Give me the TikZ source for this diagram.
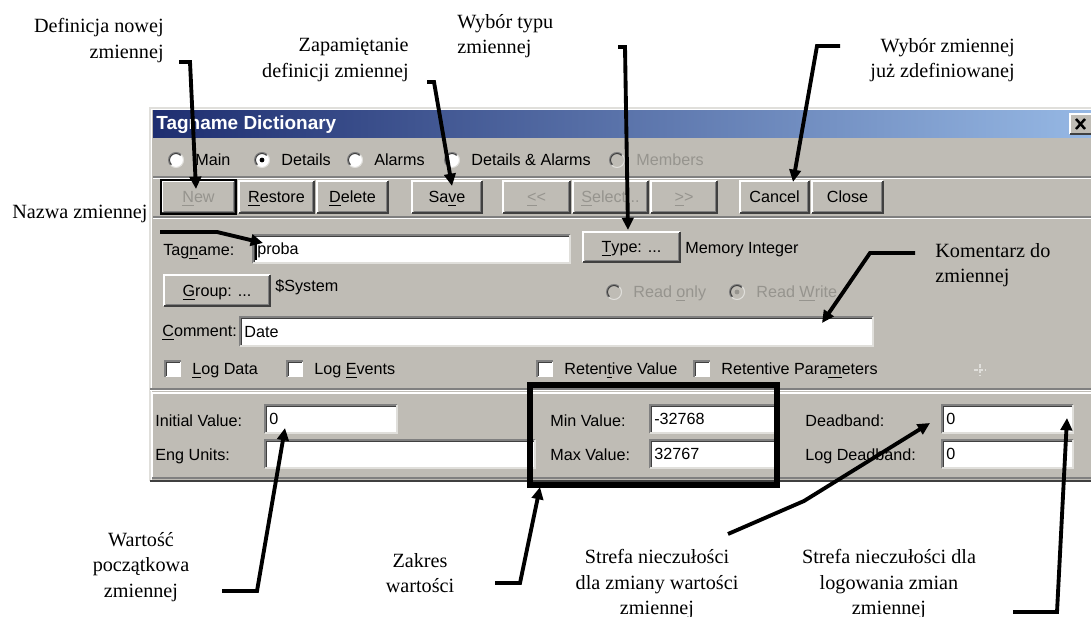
\documentclass[tikz,border=0pt]{standalone}
\usepackage{fontspec}
\setmainfont{Liberation Serif}
\setsansfont{Liberation Sans}
\usepackage{xcolor}
\usetikzlibrary{arrows.meta, calc, positioning}

\definecolor{winbg}{RGB}{191,188,181}
\definecolor{winshade}{RGB}{128,128,128}
\definecolor{windark}{RGB}{64,64,64}
\definecolor{winlite}{RGB}{224,223,219}
\definecolor{titleL}{RGB}{30,46,112}
\definecolor{titleR}{RGB}{150,184,228}
\definecolor{greyed}{RGB}{150,148,142}

\begin{document}
\begin{tikzpicture}[x=0.02cm, y=-0.02cm,
  ui/.style={font=\sffamily\fontsize{9.2}{11}\selectfont, inner sep=0pt},
  note/.style={font=\fontsize{11.5}{14.5}\selectfont, inner sep=0pt},
  callout/.style={line width=2.2pt, line cap=butt, line join=miter},
  pointer/.style={callout, -{Triangle[length=7pt, width=6.5pt]}},
  etch/.style={line width=0.6pt}]

\useasboundingbox (0,0) rectangle (1091,617);
\fill[white] (0,0) rectangle (1091,617);

% window frame and title bar
\fill[winbg] (150,108) rectangle (1091,481);
\draw[winlite, etch] (150,481) -- (150,108) -- (1091,108);
\draw[white, etch] (151.5,481) -- (151.5,109.5) -- (1091,109.5);
\draw[windark, etch] (150,481) -- (1091,481);
\shade[left color=titleL, right color=titleR] (153,111) rectangle (1091,138);
\node[inner sep=0pt, font=\sffamily\bfseries\fontsize{10.8}{12}\selectfont, text=white, anchor=base west] (title) at (156,130) {Tagname Dictionary};
\fill[winbg] (1070,114) rectangle (1091,134);
\draw[white, etch] (1070,134) -- (1070,114) -- (1091,114);
\draw[windark, etch] (1070,134) -- (1091,134);
\draw[line width=1.4pt] (1076,119) -- (1085,129) (1085,119) -- (1076,129);

% separators
\draw[winshade, etch] (153,177) -- (1091,177);
\draw[white, etch] (153,178.5) -- (1091,178.5);
\draw[winshade, etch] (153,217) -- (1091,217);
\draw[white, etch] (153,218.5) -- (1091,218.5);
\draw[winshade, etch] (150,389) -- (1091,389);
\draw[white, etch] (150,390.5) -- (1091,390.5);
\draw[white, etch] (152,478) -- (152,393) -- (1091,393);
\draw[winshade, etch] (152,478) -- (1091,478);

% radio buttons
\foreach \nm/\xr/\yr/\lbl/\col/\fc/\on in {
    main/176/160/Main/black/white/0,
    details/262/160/Details/black/white/1,
    alarms/355/160/Alarms/black/white/0,
    detal/452/160/{Details \& Alarms}/black/white/0,
    members/617/160/Members/greyed/winbg/0,
    ronly/614/292/{Read \underline{o}nly}/greyed/winbg/0,
    rwrite/737/292/{Read \underline{W}rite}/greyed/winbg/1} {
  \fill[\fc] (\xr,\yr) circle (7.5);
  \draw[winshade, etch] (\xr,\yr) ++(135:7.5) arc (135:315:7.5);
  \draw[windark, etch] (\xr,\yr) ++(135:6.5) arc (135:315:6.5);
  \draw[winlite, etch] (\xr,\yr) ++(-45:7.5) arc (-45:135:7.5);
  \ifnum\on=1 \fill[\col] (\xr,\yr) circle (2.4); \fi
  \node[ui, text=\col, anchor=base west] (r-\nm) at (\xr+19,\yr+6) {\lbl};
}

% push buttons
\foreach \nm/\xa/\ya/\xb/\yb/\lbl/\col in {
    new/162/181/235/213/{\underline{N}ew}/greyed,
    restore/239/181/314/213/{\underline{R}estore}/black,
    delete/317/181/388/213/{\underline{D}elete}/black,
    save/412/181/482/213/{Sa\underline{v}e}/black,
    prev/503/181/570/213/{\underline{\textless}\textless}/greyed,
    select/573/181/648/213/{\underline{S}elect...}/greyed,
    next/651/181/717/213/{\underline{\textgreater}\textgreater}/greyed,
    cancel/740/181/809/213/Cancel/black,
    close/812/181/883/213/Close/black,
    type/583/232/680/262/{\underline{T}ype: ...}/black,
    group/164/275/270/306/{\underline{G}roup: ...}/black} {
  \fill[winbg] (\xa,\ya) rectangle (\xb,\yb);
  \draw[white, etch] (\xa,\yb) -- (\xa,\ya) -- (\xb,\ya);
  \draw[windark, etch] (\xa,\yb) -- (\xb,\yb) -- (\xb,\ya);
  \draw[winshade, etch] (\xa+1.5,\yb-1.5) -- (\xb-1.5,\yb-1.5) -- (\xb-1.5,\ya+1.5);
  \node[ui, text=\col, anchor=base] (b-\nm) at ({(\xa+\xb)/2},{(\ya+\yb)/2+6}) {\lbl};
}
\draw[black, line width=1pt] (161,180) rectangle (236,214);

% text fields
\foreach \nm/\xa/\ya/\xb/\yb/\val in {
    tag/253/235/570/263/proba,
    comment/240/317/873/346/Date,
    init/265/405/397/433/0,
    eng/265/440/535/468/{},
    min/650/405/775/433/-32768,
    max/650/440/775/468/32767,
    dead/942/405/1073/433/0,
    logdead/942/440/1073/468/0} {
  \fill[white] (\xa,\ya) rectangle (\xb,\yb);
  \draw[winshade, etch] (\xa,\yb) -- (\xa,\ya) -- (\xb,\ya);
  \draw[windark, etch] (\xa+1.2,\yb-1.2) -- (\xa+1.2,\ya+1.2) -- (\xb-1.2,\ya+1.2);
  \draw[winlite, etch] (\xa,\yb) -- (\xb,\yb) -- (\xb,\ya);
  \node[ui, anchor=base west] (f-\nm) at (\xa+4,{(\ya+\yb)/2+6}) {\val};
}
\draw[etch] (256,239) -- (256,260);

% check boxes
\foreach \nm/\xa/\lbl in {
    logdata/165/{\underline{L}og Data},
    logev/287/{Log \underline{E}vents},
    retval/537/{Reten\underline{t}ive Value},
    retpar/694/{Retentive Para\underline{m}eters}} {
  \fill[white] (\xa,361) rectangle (\xa+16,377);
  \draw[winshade, etch] (\xa,377) -- (\xa,361) -- (\xa+16,361);
  \draw[windark, etch] (\xa+1.2,375.8) -- (\xa+1.2,362.2) -- (\xa+14.8,362.2);
  \node[ui, anchor=base west] (c-\nm) at (\xa+27,375) {\lbl};
}

% labels
\node[ui, anchor=base west] (lb-tag) at (163,256) {Tag\underline{n}ame:};
\node[ui, anchor=base west] (lb-type) at (685,254) {Memory Integer};
\node[ui, anchor=base west] (lb-group) at (275,292) {\$System};
\node[ui, anchor=base west] (lb-comment) at (162,337) {\underline{C}omment:};
\node[ui, anchor=base west] (lb-init) at (155,427) {Initial Value:};
\node[ui, anchor=base west] (lb-eng) at (155,461) {Eng Units:};
\node[ui, anchor=base west] (lb-min) at (550,427) {Min Value:};
\node[ui, anchor=base west] (lb-max) at (550,461) {Max Value:};
\node[ui, anchor=base west] (lb-dead) at (805,427) {Deadband:};
\node[ui, anchor=base west] (lb-logdead) at (805,461) {Log Deadband:};
\draw[winlite, etch, dash pattern=on 2pt off 1pt] (974,370) -- (986,370) (980,364) -- (980,376);

% range frame
\draw[line width=3pt] (530,385) rectangle (777,485);

% annotations
\node[note, align=right, anchor=north east] (nDef) at (164,18) {Definicja nowej\\zmiennej};
\node[note, align=right, anchor=north east] (nSave) at (409,38) {Zapamiętanie\\definicji zmiennej};
\node[note, align=left, anchor=north west] (nType) at (457,14) {Wybór typu\\zmiennej};
\node[note, align=right, anchor=north east] (nCancel) at (1015,38) {Wybór zmiennej\\już zdefiniowanej};
\node[note, anchor=base west] (nName) at (12,219) {Nazwa zmiennej};
\node[note, align=left, anchor=north west] (nComment) at (935,243) {Komentarz do\\zmiennej};
\node[note, align=center, anchor=north] (nInit) at (141,532) {Wartość\\początkowa\\zmiennej};
\node[note, align=center, anchor=north] (nRange) at (420,553) {Zakres\\wartości};
\node[note, align=center, anchor=north] (nDead) at (657,549) {Strefa nieczułości\\dla zmiany wartości\\zmiennej};
\node[note, align=center, anchor=north] (nLogDead) at (889,549) {Strefa nieczułości dla\\logowania zmian\\zmiennej};

% callout arrows
\coordinate (sDef) at (179,62);    \coordinate (tNew) at (196,189);
\coordinate (sSave) at (427,82);   \coordinate (tSave) at (452,186);
\coordinate (sType) at (618,47);   \coordinate (tType) at (628,230);
\coordinate (sCancel) at (840,46); \coordinate (tCancel) at (793,182);
\coordinate (sName) at (160,232);  \coordinate (tTag) at (263,243);
\coordinate (sComm) at (915,253);  \coordinate (tComm) at (822,323);
\coordinate (sInit) at (222,591);  \coordinate (tInit) at (285,428);
\coordinate (sRange) at (495,583); \coordinate (tRange) at (540,487);
\coordinate (sDead) at (728,534);  \coordinate (tDead) at (930,423);
\coordinate (sLog) at (1013,612);  \coordinate (tLog) at (1067,418);

\draw[pointer] (sDef) -- ++(11,0) -- (tNew);
\draw[pointer] (sSave) -- ++(7,0) -- (tSave);
\draw[pointer] (sType) -- ++(7,0) -- (tType);
\draw[pointer] (sCancel) -- ++(-23,0) -- (tCancel);
\draw[pointer] (sName) -- ++(57,0) -- (tTag);
\draw[pointer] (sComm) -- ++(-45,0) -- (tComm);
\draw[pointer] (sInit) -- ++(35,0) -- (tInit);
\draw[pointer] (sRange) -- ++(25,0) -- (tRange);
\draw[pointer] (sDead) -- (804,501) -- (tDead);
\draw[pointer] (sLog) -- ++(44,0) -- (tLog);
\end{tikzpicture}
\end{document}
